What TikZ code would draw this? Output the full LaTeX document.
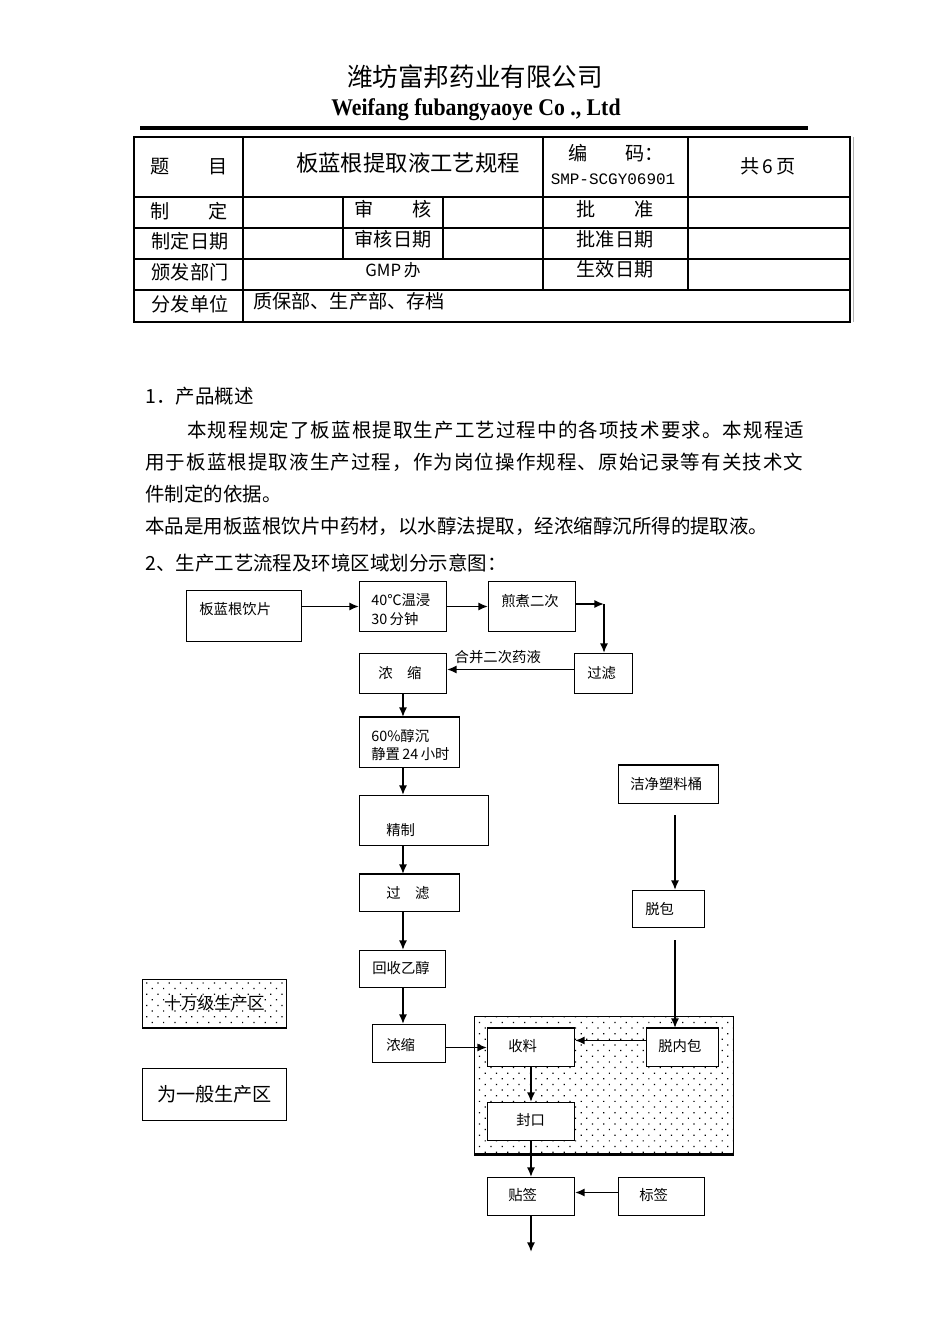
\documentclass[tikz,border=0pt]{standalone}
\usepackage{fontspec}
\setmainfont{Liberation Serif}
\setmonofont{Liberation Mono}
\newfontfamily\cjk{Noto Sans CJK SC}
\newfontfamily\cjkwide[LetterSpace=5.8]{Noto Sans CJK SC}
\usetikzlibrary{arrows.meta,patterns.meta,positioning}
\def\px{0.6266pt}
\tikzset{
    % boxes given by their pixel corners
    pbox/.style n args={4}{
        rectangle, draw, fill=white, line width=0.6pt,
        anchor=north west, inner sep=0pt,
        minimum width={(#3-#1)*\px}, minimum height={(#4-#2)*\px},
        at={(#1,#2)}
    },
    % text placed inside a box, offset from its top left corner
    tag/.style n args={3}{
        label={[flowtext, anchor=west, xshift={#1*\px}, yshift={-#2*\px}]north west:#3}
    },
    flowtext/.style={
        font=\cjk\fontsize{9}{11.8}\selectfont, inner sep=0pt, align=left
    },
    bodytext/.style={
        font=\cjk\fontsize{12.2}{14}\selectfont, anchor=west, inner sep=0pt
    },
    cell/.style={
        font=\cjk\fontsize{12}{14}\selectfont, inner sep=0pt
    },
    flow/.style={
        -{Latex[length=6pt,width=5pt]}, line width=1pt
    },
    thickedge/.style={line width=1.6pt},
    dotfill/.style={pattern={Dots[distance=5pt, angle=45, radius=0.55pt]}}
}
\begin{document}
\begin{tikzpicture}[x=0.6266pt, y=-0.6266pt]
\useasboundingbox (0,0) rectangle (950,1344);

% Company header
\node[font=\cjk\fontsize{16}{18}\selectfont, inner sep=0pt] (company) at (475,77) {潍坊富邦药业有限公司};
\node[font=\bfseries\fontsize{15}{17}\selectfont, inner sep=0pt] (company_en) at (476,110) {\scalebox{0.91}[1]{Weifang fubangyaoye Co ., Ltd}};
\draw[line width=2.2pt] (140,128) -- (808,128);

% Document table
\draw[line width=0.7pt] (134,137) rectangle (850,322);
\draw[line width=0.6pt, gray!60] (853,137) -- (853,322);
\foreach \y in {197,228,259,290}
    \draw[line width=0.7pt] (134,\y) -- (850,\y);
\draw[line width=0.7pt] (243,137) -- (243,322);
\draw[line width=0.7pt] (543,137) -- (543,290);
\draw[line width=0.7pt] (688,137) -- (688,290);
\draw[line width=0.7pt] (343,197) -- (343,259);
\draw[line width=0.7pt] (443,197) -- (443,259);

\node[cell] (t_title) at (189,167) {题\hspace{2em}目};
\node[cell, font=\cjk\fontsize{14}{16}\selectfont] (t_name) at (408,163) {板蓝根提取液工艺规程};
\node[cell] (t_code) at (616,153) {编\hspace{2em}码：};
\node[cell, font=\ttfamily\fontsize{10}{12}\selectfont] (t_codeno) at (613,179) {SMP-SCGY06901};
\node[cell] (t_pages) at (768,166) {共\,6\,页};
\node[cell] (t_make) at (189,211) {制\hspace{2em}定};
\node[cell] (t_check) at (393,209) {审\hspace{2em}核};
\node[cell] (t_approve) at (615,209) {批\hspace{2em}准};
\node[cell] (t_makedate) at (190,241) {制定日期};
\node[cell] (t_checkdate) at (393,239) {审核日期};
\node[cell] (t_approvedate) at (615,239) {批准日期};
\node[cell] (t_issuer) at (190,272) {颁发部门};
\node[cell, font=\cjk\fontsize{10.5}{12}\selectfont] (t_gmp) at (393,270) {GMP\,办};
\node[cell] (t_effective) at (615,269) {生效日期};
\node[cell] (t_dist) at (190,304) {分发单位};
\node[cell, anchor=west] (t_distto) at (253,301) {质保部、生产部、存档};

% Overview text
\node[bodytext] (sec1) at (145,396) {1．产品概述};
\node[bodytext, font=\cjkwide\fontsize{12.2}{14}\selectfont] (par1a) at (187,430) {本规程规定了板蓝根提取生产工艺过程中的各项技术要求。本规程适};
\node[bodytext, font=\cjkwide\fontsize{12.2}{14}\selectfont] (par1b) at (145,462) {用于板蓝根提取液生产过程，作为岗位操作规程、原始记录等有关技术文};
\node[bodytext] (par1c) at (145,494) {件制定的依据。};
\node[bodytext] (par2) at (145,526) {本品是用板蓝根饮片中药材，以水醇法提取，经浓缩醇沉所得的提取液。};
\node[bodytext] (sec2) at (145,563) {2、生产工艺流程及环境区域划分示意图：};

% Clean area
\node[pbox={474}{1016}{733}{1153}, dotfill, line width=0.9pt] (cleanzone) {};

% Extraction line
\node[pbox={186}{590}{301}{641}, tag={13}{19}{板蓝根饮片}] (yinpian) {};
\node[pbox={359}{581}{446}{631}, tag={12}{29}{40℃温浸\\30\,分钟}] (wenjin) {};
\node[pbox={488}{581}{575}{631}, tag={13}{20}{煎煮二次}] (jianzhu) {};
\node[pbox={574}{653}{632}{693}, tag={13}{20}{过滤}] (guolv1) {};
\node[pbox={359}{653}{446}{693}, tag={19}{20}{浓\hspace{1em}缩}] (nongsuo1) {};
\node[pbox={359}{717}{459}{767}, tag={12}{28}{60\%醇沉\\静置\,24\,小时}] (chenjiang) {};
\node[pbox={359}{795}{488}{845}, tag={27}{35}{精制}] (jingzhi) {};
\node[pbox={359}{874}{459}{911}, tag={27}{19}{过\hspace{1em}滤}] (guolv2) {};
\node[pbox={359}{950}{445}{987}, tag={13}{18}{回收乙醇}] (huishou) {};
\node[pbox={372}{1024}{445}{1062}, tag={14}{21}{浓缩}] (nongsuo2) {};

% Packing line
\node[pbox={618}{765}{718}{803}, tag={12}{19}{洁净塑料桶}] (tong) {};
\node[pbox={632}{890}{704}{927}, tag={13}{19}{脱包}] (tuobao) {};
\node[pbox={487}{1028}{574}{1066}, tag={21}{18}{收料}] (shouliao) {};
\node[pbox={646}{1028}{718}{1066}, tag={12}{18}{脱内包}] (tuoneibao) {};
\node[pbox={487}{1102}{574}{1140}, tag={29}{18}{封口}] (fengkou) {};
\node[pbox={487}{1177}{574}{1215}, tag={21}{18}{贴签}] (tieqian) {};
\node[pbox={618}{1177}{704}{1215}, tag={21}{18}{标签}] (biaoqian) {};

% Legend
\node[pbox={142}{979}{286}{1027}, dotfill, font=\cjk\fontsize{10.5}{12}\selectfont] (legend_clean) {十万级生产区};
\node[pbox={142}{1068}{286}{1120}, font=\cjk\fontsize{12}{14}\selectfont] (legend_general) {为一般生产区};

% Heavier edges
\draw[thickedge] (chenjiang.north west) -- (chenjiang.north east);
\draw[thickedge] (guolv2.north west) -- (guolv2.north east);
\draw[thickedge] (shouliao.north west) -- (shouliao.north east);
\draw[thickedge] (tuoneibao.north west) -- (tuoneibao.north east);
\draw[thickedge] (tong.north west) -- (tong.north east);
\draw[thickedge] (legend_clean.south west) -- (legend_clean.south east);
\draw[thickedge] (cleanzone.south west) -- (cleanzone.south east);

% Free ends of connectors
\coordinate (turn) at (604,604);
\coordinate (tong_out) at (675,815);
\coordinate (tuobao_out) at (675,940);
\coordinate (outlet) at (531,1252);

% Arrows
\draw[flow] (yinpian.east |- wenjin.west) -- (wenjin.west);
\draw[flow] (wenjin.east) -- (jianzhu.west);
\draw[flow] (jianzhu.east |- turn) -- (turn);
\draw[flow] (turn) -- (turn |- guolv1.north);
\draw[flow] ([yshift=2.5pt]guolv1.west) -- ([yshift=2.5pt]nongsuo1.east)
    node[pos=0.6, above=3pt, flowtext] (hebing) {合并二次药液};
\draw[flow] (nongsuo1.south) -- (nongsuo1.south |- chenjiang.north);
\draw[flow] (chenjiang.south -| nongsuo1.south) -- (jingzhi.north -| nongsuo1.south);
\draw[flow] (jingzhi.south -| nongsuo1.south) -- (guolv2.north -| nongsuo1.south);
\draw[flow] (guolv2.south -| nongsuo1.south) -- (huishou.north -| nongsuo1.south);
\draw[flow] (huishou.south -| nongsuo1.south) -- (nongsuo2.north -| nongsuo1.south);
\draw[flow] (nongsuo2.east |- shouliao.west) -- (shouliao.west);
\draw[flow] (tong_out) -- (tong_out |- tuobao.north);
\draw[flow] (tuobao_out) -- (tuobao_out |- tuoneibao.north);
\draw[flow] ([yshift=4.4pt]tuoneibao.west) -- ([yshift=4.4pt]shouliao.east);
\draw[flow] (shouliao.south) -- (fengkou.north);
\draw[flow] (fengkou.south) -- (tieqian.north);
\draw[flow] ([yshift=2.5pt]biaoqian.west) -- ([yshift=2.5pt]tieqian.east);
\draw[flow] (tieqian.south) -- (outlet);

\end{tikzpicture}
\end{document}
